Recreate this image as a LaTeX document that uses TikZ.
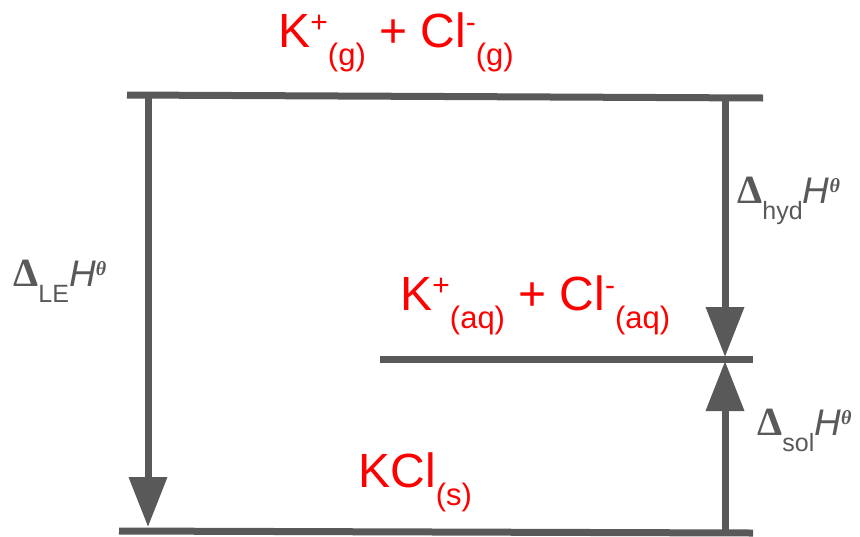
\documentclass[tikz,border=0pt]{standalone}
\usepackage{fontspec}
\setmainfont{Liberation Sans}
\newfontfamily\serfont{Liberation Serif}
\usepackage{xcolor}
\usetikzlibrary{arrows.meta}
\definecolor{lvlgray}{HTML}{595959}
\definecolor{chemred}{HTML}{FF0000}
\newcommand{\chsub}[1]{\raisebox{-9pt}{\fontsize{15.5}{16}\selectfont #1}}
\newcommand{\chsup}[1]{\raisebox{7.5pt}{\fontsize{15}{16}\selectfont #1}}
\newcommand{\enth}[1]{{\fontsize{20}{22}\selectfont\serfont\bfseries Δ}\raisebox{-8pt}{\fontsize{12.5}{13}\selectfont #1}{\itshape H}\raisebox{5.5pt}{\fontsize{10}{10}\selectfont\serfont\bfseries\itshape θ}}

\begin{document}
\begin{tikzpicture}[x=0.5pt, y=-0.5pt,
    level/.style={draw=lvlgray, line width=3.5pt},
    jump/.style={draw=lvlgray, line width=3.5pt,
                 -{Triangle[length=25pt, width=18.5pt]}},
    species/.style={anchor=base west, inner sep=0pt, text=chemred,
                    font=\fontsize{24}{28}\selectfont},
    enthlbl/.style={anchor=base west, inner sep=0pt, text=lvlgray,
                    font=\fontsize{18.5}{22}\selectfont}]
  \useasboundingbox (0,0) rectangle (860,536);
  % energy levels (gas ions, aqueous ions, solid)
  \foreach \lv/\xa/\ya/\xb/\yb in {gas/127/95/763/98, aq/380/359/753/359,
                                   s/119/531/753/533} {
    \coordinate (\lv-l) at (\xa,\ya);
    \coordinate (\lv-r) at (\xb,\yb);
    \draw[level] (\lv-l) -- (\lv-r);
  }
  % arrow ends
  \coordinate (le-a) at (148,95);
  \coordinate (le-b) at (148,527);
  \coordinate (hyd-a) at (725,98);
  \coordinate (hyd-b) at (725,357);
  \coordinate (dsol-a) at (725,534);
  \coordinate (dsol-b) at (725,361);
  \draw[jump] (le-a) -- (le-b);
  \draw[jump] (hyd-a) -- (hyd-b);
  \draw[jump] (dsol-a) -- (dsol-b);
  % species on each level
  \node[species] (ions-g) at (278,47)
      {K\chsup{+}\chsub{(g)} + Cl\chsup{-}\chsub{(g)}};
  \node[species] (ions-aq) at (400,310)
      {K\chsup{+}\chsub{(aq)} + Cl\chsup{-}\chsub{(aq)}};
  \node[species] (kcl) at (358,487) {KCl\chsub{(s)}};
  % enthalpy labels
  \node[enthlbl] (dle) at (13,286) {\enth{LE}};
  \node[enthlbl] (dhyd) at (737,203) {\enth{hyd}};
  \node[enthlbl] (dsol) at (757,435) {\enth{sol}};
\end{tikzpicture}
\end{document}
